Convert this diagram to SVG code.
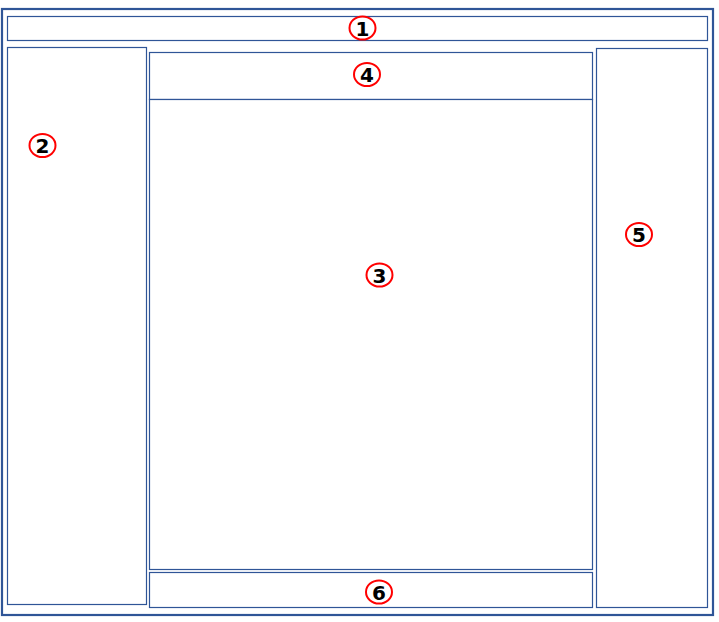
<svg xmlns="http://www.w3.org/2000/svg" width="719" height="622" viewBox="0 0 719 622">
<style>
.box{fill:#fff;stroke:#2F5597;stroke-width:1.2}
.outer{fill:#fff;stroke:#2F5597;stroke-width:2.2}
.mark{fill:none;stroke:#FF0000;stroke-width:2}
.num{font-family:"DejaVu Sans",sans-serif;font-weight:bold;font-size:20px;fill:#000;text-anchor:middle;dominant-baseline:central}
</style>
<rect width="719" height="622" fill="#fff"/>
<g id="frame"><rect class="outer" x="2" y="9" width="711" height="606"/></g>
<g id="n1"><rect class="box" x="7.5" y="16.5" width="700" height="24"/><ellipse class="mark" cx="362.5" cy="28" rx="13" ry="11.5"/><text class="num" x="362.5" y="28.5">1</text></g>
<g id="n2"><rect class="box" x="7.5" y="47.5" width="139" height="557"/><ellipse class="mark" cx="42.5" cy="145.5" rx="13" ry="11.5"/><text class="num" x="42.5" y="146">2</text></g>
<g id="n4"><rect class="box" x="149.5" y="52.5" width="443" height="47"/><ellipse class="mark" cx="367" cy="74.5" rx="13" ry="11.5"/><text class="num" x="367" y="75">4</text></g>
<g id="n3"><rect class="box" x="149.5" y="99.5" width="443" height="470"/><ellipse class="mark" cx="379.5" cy="275" rx="13" ry="11.5"/><text class="num" x="379.5" y="275.5">3</text></g>
<g id="n6"><rect class="box" x="149.5" y="572.5" width="443" height="35"/><ellipse class="mark" cx="379" cy="592" rx="13" ry="11.5"/><text class="num" x="379" y="592.5">6</text></g>
<g id="n5"><rect class="box" x="596.5" y="48.5" width="111" height="559"/><ellipse class="mark" cx="639" cy="234.5" rx="13" ry="11.5"/><text class="num" x="639" y="235">5</text></g>
<g id="connectors"></g>
</svg>
